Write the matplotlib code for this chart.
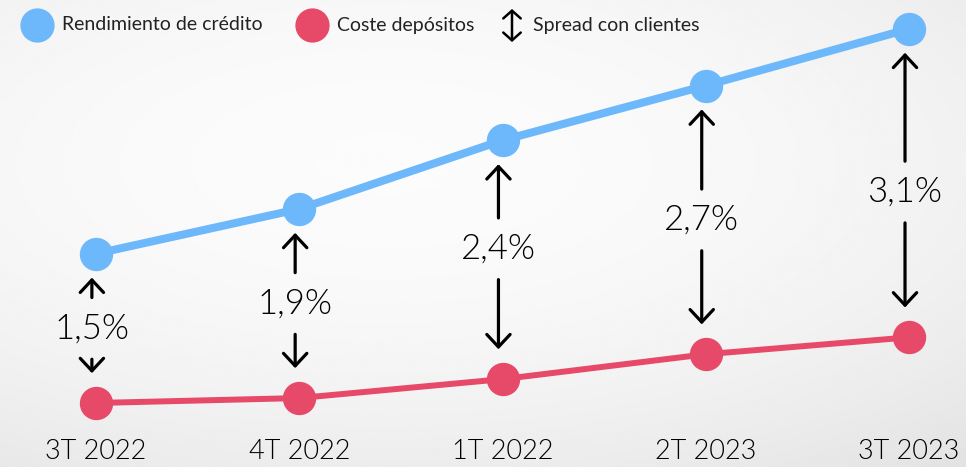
import numpy as np
import matplotlib.pyplot as plt

plt.rcParams["font.family"] = ["Lato", "DejaVu Sans"]

quarters = ["3T 2022", "4T 2022", "1T 2022", "2T 2023", "3T 2023"]
deposit_cost = [0.30, 0.35, 0.54, 0.79, 0.96]
spread = [1.5, 1.9, 2.4, 2.7, 3.1]
spread_labels = ["1,5%", "1,9%", "2,4%", "2,7%", "3,1%"]
credit_yield = [c + s for c, s in zip(deposit_cost, spread)]

legend_labels = ["Rendimiento de crédito", "Coste depósitos", "Spread con clientes"]

# nudge a couple of spread labels off the exact midpoint
label_shift = [0.0, 0.0, 0.11, 0.0, -0.09]

blue = "#6db8fa"
red = "#e64a68"

fig = plt.figure(figsize=(9.66, 4.67), dpi=100)

# soft grey backdrop, lighter toward the upper middle
bg = fig.add_axes([0, 0, 1, 1])
yy, xx = np.mgrid[0:1:200j, 0:1:400j]
r = np.sqrt(((xx - 0.4) / 1.0) ** 2 + ((yy - 0.35) / 0.9) ** 2)
bg.imshow(0.985 - 0.11 * r ** 2.0, cmap="gray", vmin=0, vmax=1,
          aspect="auto", extent=[0, 1, 0, 1], origin="upper")
bg.axis("off")

ax = fig.add_axes([0, 0, 1, 1])
ax.set_facecolor("none")
x = np.arange(len(quarters))

ax.plot(x, credit_yield, color=blue, lw=5.8, marker="o", ms=23,
        solid_capstyle="round", zorder=3)
ax.plot(x, deposit_cost, color=red, lw=4.3, marker="o", ms=23,
        solid_capstyle="round", zorder=3)

style = dict(arrowstyle="->,head_length=0.45,head_width=0.42",
             lw=2.3, color="black", shrinkA=0, shrinkB=0, mutation_scale=20)
for i, lab in enumerate(spread_labels):
    xa = x[i] - 0.02
    top, bot = credit_yield[i], deposit_cost[i]
    mid = (top + bot) / 2 + label_shift[i]
    ax.text(xa, mid, lab, ha="center", va="center", fontsize=25,
            fontweight=300, color="black")
    ax.annotate("", xy=(xa, top - 0.24), xytext=(xa, mid + 0.31),
                arrowprops=style)
    ax.annotate("", xy=(xa, bot + 0.30), xytext=(xa, mid - 0.31),
                arrowprops=style)

for i, q in enumerate(quarters):
    ax.text(x[i], -0.19, q, ha="center", va="center", fontsize=19.5,
            fontweight=300, color="black")

ax.set_xlim(-0.472, 4.28)
ax.set_ylim(-0.343, 4.35)
ax.axis("off")

# legend laid out in pixel units along the top
lg = fig.add_axes([0, 0, 1, 1])
lg.set_xlim(0, 966)
lg.set_ylim(467, 0)
lg.axis("off")
lg.scatter([37], [25], s=560, color=blue)
lg.text(62, 25, legend_labels[0], va="center", fontsize=14, color="#222222")
lg.scatter([312], [25], s=560, color=red)
lg.text(337, 25, legend_labels[1], va="center", fontsize=14, color="#222222")
lg.annotate("", xy=(512, 9), xytext=(512, 42),
            arrowprops=dict(arrowstyle="<->,head_length=0.4,head_width=0.45",
                            lw=1.8, color="black", shrinkA=0, shrinkB=0,
                            mutation_scale=14))
lg.text(533, 25, legend_labels[2], va="center", fontsize=14, color="#222222")

fig.savefig("out.png", dpi=100)
